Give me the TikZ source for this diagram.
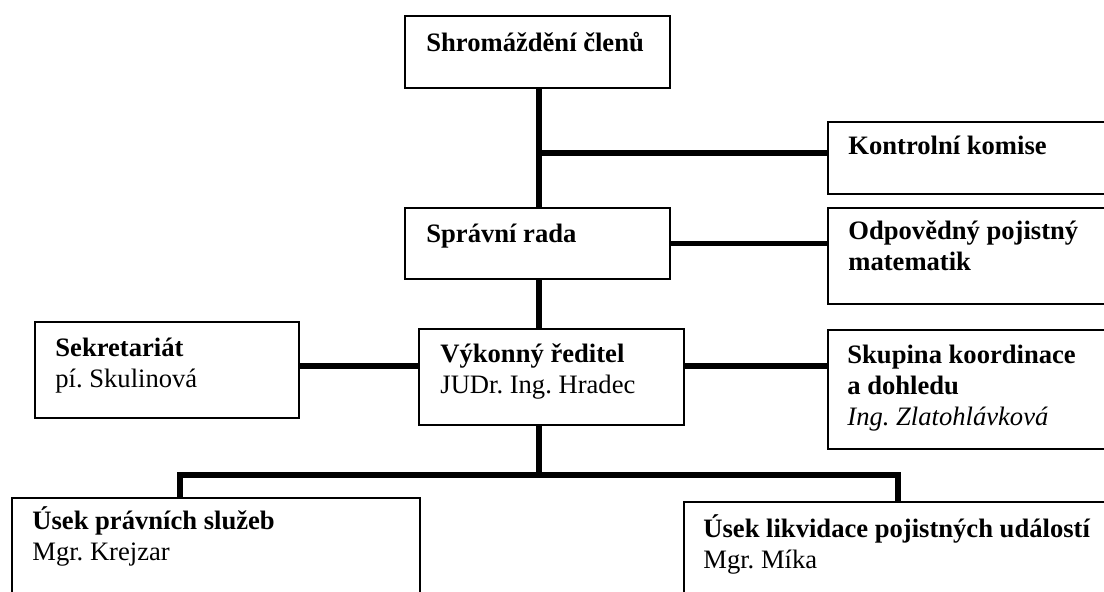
\documentclass[tikz,border=0pt]{standalone}
\usepackage{fontspec}
\setmainfont{Liberation Serif}
\begin{document}
\frenchspacing
\begin{tikzpicture}[x=0.5pt,y=-0.5pt,
  box/.style={draw, line width=1pt, rectangle, inner sep=0pt, anchor=north west},
  conn/.style={line width=2.6pt, line join=miter},
  txt/.style={anchor=base west, inner sep=0pt, font=\fontsize{13.3}{15.5}\selectfont}]
\useasboundingbox (0,0) rectangle (1104,592);
\clip (0,0) rectangle (1104,592);
% boxes
\node[box, minimum width=132.5pt, minimum height=36pt]   (shrom)   at (404,15)  {};
\node[box, minimum width=132.5pt, minimum height=35.5pt] (sprav)   at (404,207) {};
\node[box, minimum width=144pt,   minimum height=36pt]   (kontrol) at (827,121) {};
\node[box, minimum width=144pt,   minimum height=48pt]   (odp)     at (827,207) {};
\node[box, minimum width=132pt,   minimum height=48pt]   (sek)     at (34,321)  {};
\node[box, minimum width=132.5pt, minimum height=48pt]   (vyk)     at (418,328) {};
\node[box, minimum width=144pt,   minimum height=59.5pt] (skup)    at (827,329) {};
\node[box, minimum width=204pt,   minimum height=55pt]   (usek1)   at (11,497)  {};
\node[box, minimum width=220pt,   minimum height=55pt]   (usek2)   at (683,501) {};
% texts
\node[txt] (tshrom) at (426,52)  {\textbf{Shromáždění členů}};
\node[txt] (tsprav) at (426,243) {\textbf{Správní rada}};
\node[txt] (tkontrol) at (848,155) {\textbf{Kontrolní komise}};
\node[txt] (todp) at (848,240) {\begin{tabular}[t]{@{}l@{}}\textbf{Odpovědný pojistný}\\\textbf{matematik}\end{tabular}};
\node[txt] (tsek) at (55,357) {\begin{tabular}[t]{@{}l@{}}\textbf{Sekretariát}\\pí. Skulinová\end{tabular}};
\node[txt] (tvyk) at (440,363) {\begin{tabular}[t]{@{}l@{}}\textbf{Výkonný ředitel}\\JUDr. Ing. Hradec\end{tabular}};
\node[txt] (tskup) at (847,364) {\begin{tabular}[t]{@{}l@{}}\textbf{Skupina koordinace}\\\textbf{a dohledu}\\\textit{Ing. Zlatohlávková}\end{tabular}};
\node[txt] (tusek1) at (32,530) {\begin{tabular}[t]{@{}l@{}}\textbf{Úsek právních služeb}\\Mgr. Krejzar\end{tabular}};
\node[txt] (tusek2) at (703,538) {\begin{tabular}[t]{@{}l@{}}\textbf{Úsek likvidace pojistných událostí}\\Mgr. Míka\end{tabular}};
% connectors
\coordinate (tx) at (539,0);
\coordinate (j1) at (539,153);
\coordinate (r3) at (0,366);
\coordinate (bus) at (539,475);
\coordinate (bl) at (180,475);
\coordinate (br) at (898,475);
\draw[conn] (shrom.south -| tx) -- (sprav.north -| tx);
\draw[conn] (j1) -- (j1 -| kontrol.west);
\draw[conn] (sprav.east) -- (sprav.east -| odp.west);
\draw[conn] (sprav.south -| tx) -- (vyk.north -| tx);
\draw[conn] (sek.east |- r3) -- (vyk.west |- r3);
\draw[conn] (vyk.east |- r3) -- (skup.west |- r3);
\draw[conn] (vyk.south -| tx) -- (bus);
\draw[conn] (usek1.north -| bl) -- (bl) -- (br) -- (usek2.north -| br);
\end{tikzpicture}
\end{document}
